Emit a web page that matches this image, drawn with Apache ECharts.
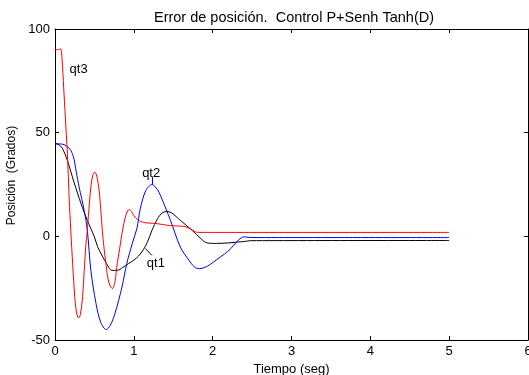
<!DOCTYPE html>
<html>
<head>
<meta charset="utf-8">
<script src="https://cdn.jsdelivr.net/npm/echarts@6/dist/echarts.min.js"></script>
<style>
  html, body { margin: 0; padding: 0; background: #fff; }
  #chart { width: 529px; height: 375px; }
</style>
</head>
<body>
<div id="chart"></div>
<script>
// tiempo (seg), error (grados)
var qt1Data = [
  [0, 44.7], [0.05, 44.2], [0.093, 42.5], [0.157, 36.6], [0.24, 26.2], [0.33, 15.8],
  [0.41, 7.7], [0.5, -0.3], [0.54, -5], [0.6, -9.5], [0.645, -12.5], [0.72, -16.4],
  [0.79, -16.4], [0.86, -15], [0.93, -13.2], [1.0, -11.5], [1.06, -9.5], [1.12, -6.5],
  [1.17, -3], [1.23, 2.9], [1.3, 8.5], [1.36, 11.3], [1.42, 12], [1.48, 11.3],
  [1.59, 7.7], [1.74, 2.9], [1.85, -1.1], [1.93, -3.2], [2.05, -3.4], [2.19, -3.2],
  [2.3, -2.8], [2.4, -2.5], [2.48, -2.1], [5, -2.0]
]
var qt2Data = [
  [0, 44.7], [0.1, 44.4], [0.15, 43.5], [0.2, 41.5], [0.24, 37.4], [0.27, 31],
  [0.306, 23.8], [0.37, 12.5], [0.41, 2.9], [0.455, -16.4], [0.52, -32.4], [0.58, -41.5],
  [0.65, -45], [0.7, -43], [0.76, -37.3], [0.85, -24.4], [0.91, -13.2], [0.98, -3.5],
  [1.04, 4], [1.08, 13], [1.15, 22], [1.23, 25], [1.3, 22.5], [1.34, 19.5],
  [1.465, 7.7], [1.59, -5.2], [1.7, -11.6], [1.77, -14.8], [1.83, -15.6], [1.9, -15],
  [1.97, -13.5], [2.06, -11], [2.15, -8.5], [2.23, -5.9], [2.3, -2.8], [2.36, -0.8],
  [2.4, -0.2], [2.45, -0.5], [2.6, -0.6], [5, -0.6]
]
var qt3Data = [
  [0, 90], [0.04, 90], [0.07, 90.5], [0.09, 85], [0.11, 72], [0.13, 58], [0.157, 40],
  [0.18, 18], [0.2, 3], [0.225, -14], [0.25, -29], [0.27, -36], [0.29, -39], [0.306, -39.2],
  [0.325, -37], [0.35, -29], [0.37, -17], [0.39, -5], [0.41, 3], [0.43, 13], [0.455, 23.8],
  [0.48, 29.5], [0.505, 31], [0.53, 29], [0.56, 22], [0.58, 13], [0.6, 3], [0.62, -5],
  [0.645, -13], [0.67, -20], [0.7, -24], [0.73, -25.2], [0.76, -22], [0.79, -13],
  [0.82, -6], [0.857, 3], [0.89, 9], [0.92, 12.3], [0.94, 12.9], [0.97, 12], [1.0, 10],
  [1.05, 8], [1.1, 7], [1.15, 6.5], [1.25, 6.3], [1.35, 5.8], [1.45, 5.2], [1.55, 5],
  [1.65, 4.7], [1.72, 3.5], [1.78, 2.2], [1.82, 1.9], [5, 1.9]
]

// etiquetas de las curvas (gtext) y sus trazos
var labelPos = { qt1: [1.28, -13.2], qt2: [1.22, 30.5], qt3: [0.3, 80.5] }
var pointerQt1 = [[1.146, -5.9], [1.23, -9.2]]
var pointerQt2 = [[1.23, 28.6], [1.23, 25]]

var xTicks = { min: 0, max: 6, interval: 1 }
var yTicks = { min: -50, max: 100, interval: 50 }

var FONT = 'Liberation Sans'

function labelMark(name) {
  return {
    symbol: 'circle',
    symbolSize: 0,
    silent: true,
    label: { show: true, position: 'inside', formatter: name, color: '#000', fontFamily: FONT, fontSize: 13 },
    data: [{ coord: labelPos[name] }]
  }
}

function pointerMark(pts, color) {
  return {
    symbol: 'none',
    silent: true,
    label: { show: false },
    lineStyle: { color: color, type: 'solid', width: 1 },
    data: [[{ coord: pts[0] }, { coord: pts[1] }]]
  }
}

var axisCommon = {
  axisLine: { show: true, onZero: false, lineStyle: { color: '#000', width: 1 } },
  axisTick: { show: true, inside: true, length: 4, lineStyle: { color: '#000' } },
  splitLine: { show: false }
}

var chart = echarts.init(document.getElementById('chart'))
chart.setOption({
  animation: false,
  backgroundColor: '#fff',
  title: {
    text: 'Error de posición.  Control P+Senh Tanh(D)',
    left: 289, top: 5, textAlign: 'center',
    textStyle: { fontFamily: FONT, fontSize: 14.5, fontWeight: 'normal', color: '#000' }
  },
  grid: { left: 55, right: 1, top: 29, bottom: 35, containLabel: false, outerBoundsMode: 'none' },
  xAxis: [
    Object.assign({
      type: 'value', position: 'bottom', min: xTicks.min, max: xTicks.max, interval: xTicks.interval,
      name: 'Tiempo (seg)', nameLocation: 'middle', nameGap: 21,
      nameTextStyle: { fontFamily: FONT, fontSize: 13, color: '#000' },
      axisLabel: { fontFamily: FONT, fontSize: 13, color: '#000', margin: 5 }
    }, axisCommon),
    Object.assign({
      type: 'value', position: 'top', min: xTicks.min, max: xTicks.max, interval: xTicks.interval,
      axisLabel: { show: false }
    }, axisCommon)
  ],
  yAxis: [
    Object.assign({
      type: 'value', position: 'left', min: yTicks.min, max: yTicks.max, interval: yTicks.interval,
      name: 'Posición  (Grados)', nameLocation: 'middle', nameGap: 31,
      nameTextStyle: { fontFamily: FONT, fontSize: 12, color: '#000', padding: [0, 0, 0, 18] },
      axisLabel: { fontFamily: FONT, fontSize: 13, color: '#000', margin: 5 }
    }, axisCommon),
    Object.assign({
      type: 'value', position: 'right', min: yTicks.min, max: yTicks.max, interval: yTicks.interval,
      axisLabel: { show: false }
    }, axisCommon)
  ],
  series: [
    {
      name: 'qt1', type: 'line', data: qt1Data, showSymbol: false, smooth: 0.3,
      lineStyle: { color: '#000', width: 1 },
      markPoint: labelMark('qt1'),
      markLine: pointerMark(pointerQt1, '#000')
    },
    {
      name: 'qt2', type: 'line', data: qt2Data, showSymbol: false, smooth: 0.3,
      lineStyle: { color: '#0000ff', width: 1 },
      markPoint: labelMark('qt2'),
      markLine: pointerMark(pointerQt2, '#0000ff')
    },
    {
      name: 'qt3', type: 'line', data: qt3Data, showSymbol: false, smooth: 0.3,
      lineStyle: { color: '#ff0000', width: 1 },
      markPoint: labelMark('qt3')
    }
  ]
})
</script>
</body>
</html>
